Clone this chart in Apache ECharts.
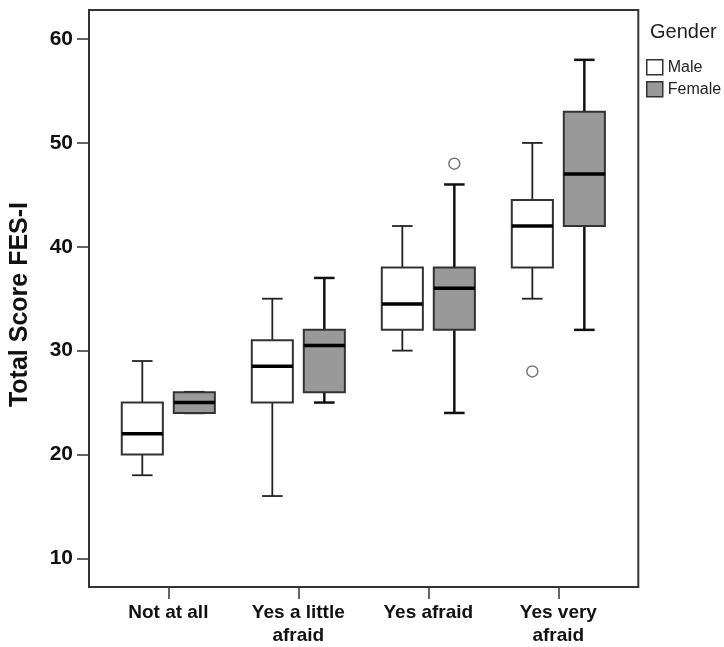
<!DOCTYPE html>
<html>
<head>
<meta charset="utf-8">
<script src="https://cdn.jsdelivr.net/npm/echarts@6/dist/echarts.min.js"></script>
<style>
  html, body { margin: 0; padding: 0; background: #fff; }
  #chart { width: 724px; height: 647px; }
</style>
</head>
<body>
<div id="chart"></div>
<script>
// fear-of-falling categories (x axis)
const categories = ['Not at all', 'Yes a little\nafraid', 'Yes afraid', 'Yes very\nafraid'];
// box stats per category: [lower whisker, Q1, median, Q3, upper whisker]
const maleBoxes = [
  [18, 20, 22, 25, 29],
  [16, 25, 28.5, 31, 35],
  [30, 32, 34.5, 38, 42],
  [35, 38, 42, 44.5, 50]
];
const femaleBoxes = [
  [24, 24, 25, 26, 26],
  [25, 26, 30.5, 32, 37],
  [24, 32, 36, 38, 46],
  [32, 42, 47, 53, 58]
];
// outliers: [category index, score]
const maleOutliers = [[3, 28]];
const femaleOutliers = [[2, 48]];
const yTicks = [10, 20, 30, 40, 50, 60];
const catTicks = [0, 1, 2, 3];

const FONT = 'Liberation Sans, Arial, sans-serif';
const MALE_SHIFT = -0.2;
const FEMALE_SHIFT = 0.2;

// draws one box + whiskers in axis units
const makeBox = (shift, fill, whiskerColor, whiskerWidth) => (params, api) => {
  const x = api.value(0) + shift;
  const unit = api.size([1, 0])[0];
  const half = unit * 0.158;
  const cap = half / 2;
  const pt = v => api.coord([x, v]);
  const [cx, yMin] = pt(api.value(1));
  const yQ1 = pt(api.value(2))[1];
  const yMed = pt(api.value(3))[1];
  const yQ3 = pt(api.value(4))[1];
  const yMax = pt(api.value(5))[1];
  const line = (x1, y1, x2, y2, w, c) => ({
    type: 'line',
    shape: {x1, y1, x2, y2},
    style: {stroke: c || whiskerColor, lineWidth: w}
  });
  return {
    type: 'group',
    children: [
      line(cx, yQ3, cx, yMax, whiskerWidth),
      line(cx, yQ1, cx, yMin, whiskerWidth),
      line(cx - cap, yMax, cx + cap, yMax, whiskerWidth),
      line(cx - cap, yMin, cx + cap, yMin, whiskerWidth),
      {
        type: 'rect',
        shape: {x: cx - half, y: yQ3, width: half * 2, height: yQ1 - yQ3},
        style: {fill: fill, stroke: '#333', lineWidth: 2}
      },
      line(cx - half, yMed, cx + half, yMed, 3.5, '#000')
    ]
  };
};

const chart = echarts.init(document.getElementById('chart'));

const option = {
  animation: false,
  backgroundColor: '#fff',
  title: {
    text: 'Gender',
    left: 650,
    top: 22,
    padding: 0,
    textStyle: {fontFamily: FONT, fontSize: 20, fontWeight: 'normal', color: '#222'}
  },
  legend: {
    orient: 'vertical',
    left: 646,
    top: 59,
    padding: 0,
    itemWidth: 16,
    itemHeight: 15,
    itemGap: 5.5,
    textStyle: {fontFamily: FONT, fontSize: 16, color: '#222', lineHeight: 15},
    data: [
      {name: 'Male', icon: 'rect', itemStyle: {color: '#fff', borderColor: '#333', borderWidth: 1.5}},
      {name: 'Female', icon: 'rect', itemStyle: {color: '#999', borderColor: '#333', borderWidth: 1.5}}
    ]
  },
  grid: {
    left: 89,
    right: 85.7,
    top: 10,
    bottom: 56.5,
    show: true,
    borderColor: '#333',
    borderWidth: 2
  },
  xAxis: {
    type: 'value',
    min: -0.61,
    max: 3.615,
    axisLine: {show: false, onZero: false},
    splitLine: {show: false},
    axisTick: {show: true, length: 12, customValues: catTicks, lineStyle: {color: '#333', width: 1.5}},
    axisLabel: {
      customValues: catTicks,
      formatter: v => categories[Math.round(v)],
      fontFamily: FONT,
      fontSize: 19,
      fontWeight: 'bold',
      color: '#111',
      lineHeight: 23,
      margin: 14
    }
  },
  yAxis: {
    type: 'value',
    min: 7.24,
    max: 62.8,
    name: 'Total Score FES-I',
    nameLocation: 'middle',
    nameGap: 56,
    nameTextStyle: {fontFamily: FONT, fontSize: 25, fontWeight: 'bold', color: '#111', padding: [0, 12, 0, 0]},
    axisLine: {show: false, onZero: false},
    splitLine: {show: false},
    axisTick: {show: true, length: 12, customValues: yTicks, lineStyle: {color: '#333', width: 1.5}},
    axisLabel: {
      customValues: yTicks,
      fontFamily: FONT,
      fontSize: 21,
      fontWeight: 'bold',
      color: '#111',
      margin: 16
    }
  },
  series: [
    {
      name: 'Male',
      type: 'custom',
      itemStyle: {color: '#fff', borderColor: '#333'},
      encode: {x: 0, y: [1, 2, 3, 4, 5]},
      renderItem: makeBox(MALE_SHIFT, '#fff', '#222', 1.8),
      data: maleBoxes.map((s, i) => [i, ...s])
    },
    {
      name: 'Female',
      type: 'custom',
      itemStyle: {color: '#999', borderColor: '#333'},
      encode: {x: 0, y: [1, 2, 3, 4, 5]},
      renderItem: makeBox(FEMALE_SHIFT, '#999', '#111', 2.5),
      data: femaleBoxes.map((s, i) => [i, ...s])
    },
    {
      name: 'Male',
      type: 'scatter',
      symbol: 'circle',
      symbolSize: 11,
      itemStyle: {color: '#fff', borderColor: '#555', borderWidth: 1.5},
      data: maleOutliers.map(([i, v]) => [i + MALE_SHIFT, v])
    },
    {
      name: 'Female',
      type: 'scatter',
      symbol: 'circle',
      symbolSize: 11,
      itemStyle: {color: '#fff', borderColor: '#555', borderWidth: 1.5},
      data: femaleOutliers.map(([i, v]) => [i + FEMALE_SHIFT, v])
    }
  ]
};

chart.setOption(option);
</script>
</body>
</html>
